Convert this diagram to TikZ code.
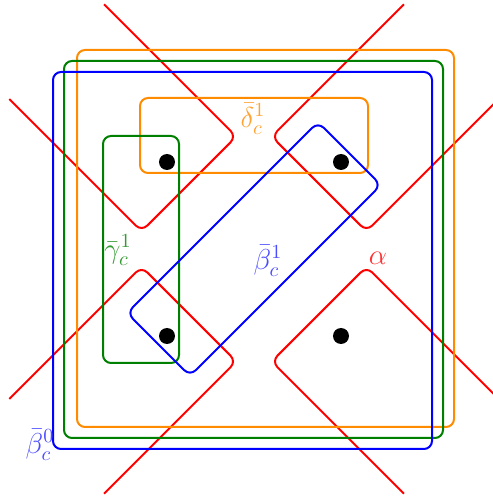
\documentclass[tikz,border=0pt]{standalone}
\usepackage{amsmath}
\usepackage{xcolor}
\usetikzlibrary{positioning}
\definecolor{setorange}{RGB}{255,140,0}
\definecolor{setgreen}{RGB}{0,128,0}

\begin{document}
\begin{tikzpicture}[x=0.5pt, y=0.5pt,
  pt/.style={circle, fill=black, inner sep=0pt, minimum size=8pt},
  bnd/.style={line width=1pt, rounded corners=4pt},
  setlab/.style={font=\Large, inner sep=0.5pt}
]
  \clip (0,0) rectangle (493,499);
  % ---------------- points ----------------
  \node[pt] (dtl) at (167,337) {};
  \node[pt] (dtr) at (341,337) {};
  \node[pt] (dbl) at (167,163) {};
  \node[pt] (dbr) at (341,163) {};
  % ---------------- alpha: one open cell round each point ----------------
  \foreach \p/\a in {dtl/-45, dtr/-135, dbl/45, dbr/135}
    \draw[bnd, red, shift={(\p)}, rotate=\a]
      (-156,67) -- (31,67) -- (31,-67) -- (-156,-67);
  % ---------------- outer sets ----------------
  \draw[bnd, setorange] (77,72) rectangle (454,449);
  \draw[bnd, setgreen] (64,61) rectangle (443,438);
  \draw[bnd, blue] (53,50) rectangle (432,427);
  % ---------------- inner sets ----------------
  \draw[bnd, setorange] (140,326) rectangle (368,401);
  \draw[bnd, setgreen] (103,136) rectangle (179,363);
  \draw[bnd, blue, shift={(254,250)}, rotate=45]
    (-135,-44.5) -- (135,-44.5) -- (135,44.5) -- (-135,44.5) -- cycle;
  % ---------------- labels ----------------
  \node[setlab, text=setorange!80] (ldelta) at (253,380) {$\bar{\delta}_c^1$};
  \node[setlab, text=setgreen!80] (lgamma) at (118,249) {$\bar{\gamma}_c^1$};
  \node[setlab, text=blue!70] (lbeta1) at (268,238) {$\bar{\beta}_c^1$};
  \node[setlab, text=red!80] (lalpha) at (378,241) {$\alpha$};
  \node[setlab, text=blue!70] (lbeta0) at (40,54) {$\bar{\beta}_c^0$};
\end{tikzpicture}
\end{document}
